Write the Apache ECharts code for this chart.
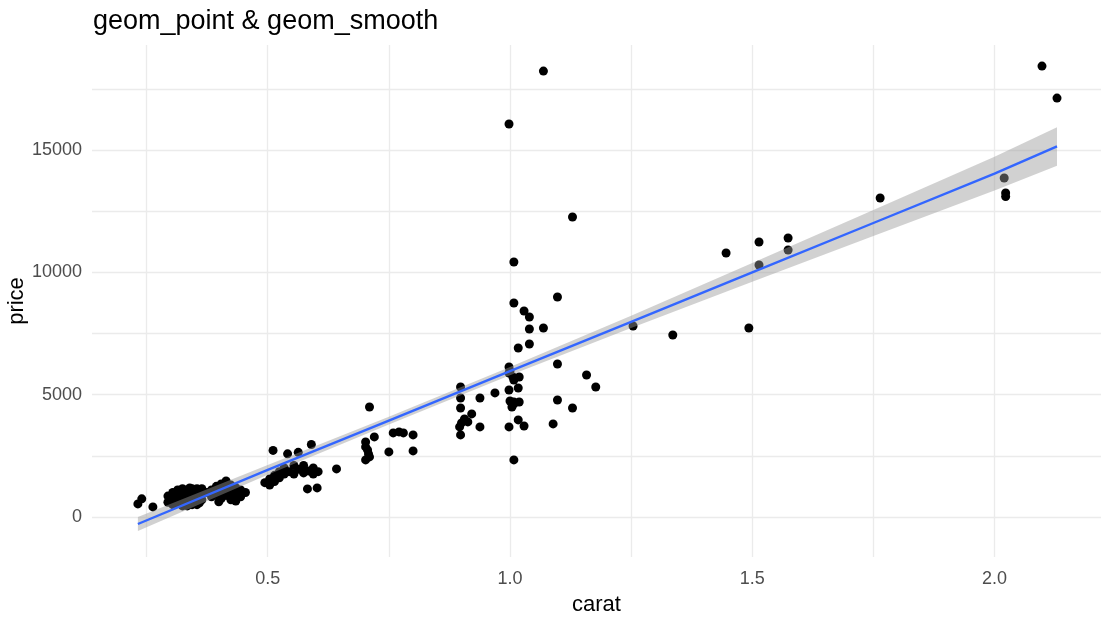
<!DOCTYPE html>
<html>
<head>
<meta charset="utf-8">
<script src="https://cdn.jsdelivr.net/npm/echarts@6/dist/echarts.min.js"></script>
<style>
html,body{margin:0;padding:0;background:#fff;}
#chart{width:1101px;height:617px;}
</style>
</head>
<body>
<div id="chart"></div>
<script>
// ---- data ----
const titleText = 'geom_point & geom_smooth';
const xName = 'carat';
const yName = 'price';

const xTickValues = [0.25, 0.5, 0.75, 1.0, 1.25, 1.5, 1.75, 2.0];
const xLabelValues = [0.5, 1.0, 1.5, 2.0];
const yTickValues = [0, 2500, 5000, 7500, 10000, 12500, 15000, 17500];
const yLabelValues = [0, 5000, 10000, 15000];

const caratValues = [
  0.232, 0.240, 0.263,
  // dense group ~0.3 ct
  0.294, 0.294, 0.304, 0.304, 0.304, 0.314, 0.314, 0.314, 0.314, 0.324, 0.324, 0.324, 0.324,
  0.334, 0.334, 0.334, 0.334, 0.344, 0.344, 0.344, 0.344, 0.354, 0.354, 0.354, 0.354, 0.364, 0.364, 0.364,
  0.299, 0.309, 0.309, 0.319, 0.319, 0.329, 0.329, 0.339, 0.339, 0.349, 0.349, 0.359, 0.359, 0.319, 0.339,
  // dense group ~0.4 ct
  0.374, 0.384, 0.384, 0.394, 0.394, 0.399, 0.404, 0.404, 0.404, 0.414, 0.414, 0.414, 0.424, 0.424, 0.424,
  0.434, 0.434, 0.434, 0.444, 0.444, 0.454,
  0.389, 0.409, 0.419, 0.429, 0.399, 0.439,
  // group ~0.5 ct
  0.494, 0.504, 0.504, 0.514, 0.514, 0.524, 0.524, 0.534, 0.534, 0.544, 0.554, 0.554, 0.564, 0.574, 0.574,
  0.584, 0.594, 0.594, 0.604,
  0.511, 0.541, 0.563, 0.590, 0.582, 0.602, 0.642,
  // group ~0.7 ct
  0.710, 0.702, 0.720, 0.702, 0.706, 0.708, 0.702, 0.710,
  0.759, 0.771, 0.780, 0.800, 0.750, 0.800,
  // group ~0.9 - 1.2 ct
  0.898, 0.898, 0.938, 0.969, 0.898, 0.921, 0.906, 0.900, 0.913, 0.896, 0.898, 0.938,
  0.998, 1.017, 1.029, 1.089, 1.008,
  0.998, 1.017, 1.000, 1.008, 1.019, 1.004, 1.008, 1.098, 1.129, 1.158, 1.177,
  0.998, 1.000, 1.006, 1.019, 1.008, 0.998, 1.098,
  1.017, 1.040, 1.040, 1.069, 1.040, 1.029, 1.008, 1.098,
  1.008, 1.129, 0.998, 1.069,
  // larger stones
  1.254, 1.336, 1.493, 1.446, 1.514, 1.514, 1.574, 1.574, 1.764,
  2.020, 2.023, 2.023, 2.098, 2.129
];
const priceValues = [
  530, 740, 410,
  600, 850, 500, 750, 1000, 550, 800, 950, 1100, 450, 700, 950, 1150,
  450, 600, 850, 1100, 500, 750, 1000, 1150, 500, 650, 900, 1150, 700, 1000, 1150,
  700, 900, 620, 1050, 680, 800, 1000, 650, 1180, 850, 1080, 800, 580, 850, 900,
  1000, 1100, 820, 950, 1250, 620, 750, 1050, 1350, 1470, 1150, 880, 700, 1000, 1300,
  1200, 900, 650, 820, 1100, 1000,
  1000, 1200, 1000, 1100, 850, 950,
  1400, 1550, 1300, 1700, 1450, 1600, 1850, 1750, 2000, 1850, 2100, 1750, 1950, 1800, 2100,
  1880, 2000, 1750, 1850,
  2720, 2580, 2640, 2960, 1145, 1186, 1962,
  4497, 3066, 3271, 2862, 2739, 2576, 2330, 2453,
  3434, 3475, 3434, 3352, 2657, 2698,
  5315, 4865, 4865, 5070, 4456, 4211, 4007, 3843, 3884, 3680, 3352, 3680,
  3680, 3966, 3720, 3802, 2330,
  5192, 5274, 4742, 4701, 4701, 4497, 4620, 4783, 4456, 5805, 5315,
  6132, 5969, 5724, 5724, 5601, 5887, 6255,
  6909, 7073, 7686, 7727, 8177, 8422, 8749, 8994,
  10425, 12265, 16067, 18234,
  7809, 7441, 7727, 10793, 11243, 10302, 11406, 10916, 13042,
  13860, 13100, 13250, 18438, 17130
];

// fitted line and its confidence band, read at several carat values
const smoothX     = [0.232, 0.5,  0.75, 1.0,  1.25, 1.5,   1.75,  2.0,   2.129];
const smoothY     = [-290,  1920, 3940, 5960, 7980, 10000, 12020, 14040, 15150];
const smoothLower = [-580,  1720, 3780, 5790, 7730, 9620,  11490, 13350, 14360];
const smoothUpper = [0,     2120, 4100, 6130, 8230, 10380, 12550, 14730, 15940];

// ---- chart ----
const points = caratValues.map((c, i) => [c, priceValues[i]]);
const linePts = smoothX.map((x, i) => [x, smoothY[i]]);

const FONT = "'Liberation Sans', Arial, sans-serif";
const gridColor = '#ebebeb';

const chart = echarts.init(document.getElementById('chart'), null, {renderer: 'canvas'});
chart.setOption({
  backgroundColor: '#ffffff',
  animation: false,
  title: {
    text: titleText,
    left: 88, top: 3,
    textStyle: {fontFamily: FONT, fontSize: 27, fontWeight: 'normal', color: '#000'}
  },
  grid: {left: 92, right: 0, top: 45, bottom: 60, containLabel: false, outerBoundsMode: 'none'},
  xAxis: {
    type: 'value',
    min: 0.1373, max: 2.2198,
    name: xName, nameLocation: 'middle', nameGap: 37, nameMoveOverlap: false,
    nameTextStyle: {fontFamily: FONT, fontSize: 22, color: '#000'},
    axisLine: {show: false},
    axisTick: {show: false, customValues: xTickValues},
    axisLabel: {
      customValues: xLabelValues,
      formatter: v => Number(v).toFixed(1),
      fontFamily: FONT, fontSize: 18, color: '#4d4d4d', margin: 13
    },
    splitLine: {show: true, lineStyle: {color: gridColor, width: 1.3}}
  },
  yAxis: {
    type: 'value',
    min: -1640, max: 19300,
    name: yName, nameLocation: 'middle', nameGap: 64, nameRotate: 90, nameMoveOverlap: false,
    nameTextStyle: {fontFamily: FONT, fontSize: 22, color: '#000'},
    axisLine: {show: false},
    axisTick: {show: false, customValues: yTickValues},
    axisLabel: {
      customValues: yLabelValues,
      formatter: v => String(v),
      fontFamily: FONT, fontSize: 18, color: '#4d4d4d', margin: 10
    },
    splitLine: {show: true, lineStyle: {color: gridColor, width: 1.3}}
  },
  series: [
    {
      type: 'scatter',
      data: points,
      symbolSize: 9,
      itemStyle: {color: '#000000', opacity: 1},
      z: 1
    },
    {
      type: 'custom',
      coordinateSystem: 'cartesian2d',
      data: [[smoothX[0], smoothY[0]]],
      renderItem: function (params, api) {
        const pts = [];
        for (let i = 0; i < smoothX.length; i++) pts.push(api.coord([smoothX[i], smoothUpper[i]]));
        for (let i = smoothX.length - 1; i >= 0; i--) pts.push(api.coord([smoothX[i], smoothLower[i]]));
        return {
          type: 'polygon',
          shape: {points: pts},
          style: {fill: 'rgba(153,153,153,0.45)', stroke: 'none'}
        };
      },
      silent: true,
      z: 2
    },
    {
      type: 'line',
      data: linePts,
      showSymbol: false,
      lineStyle: {color: '#3366FF', width: 2.4},
      z: 3
    }
  ]
});
</script>
</body>
</html>
